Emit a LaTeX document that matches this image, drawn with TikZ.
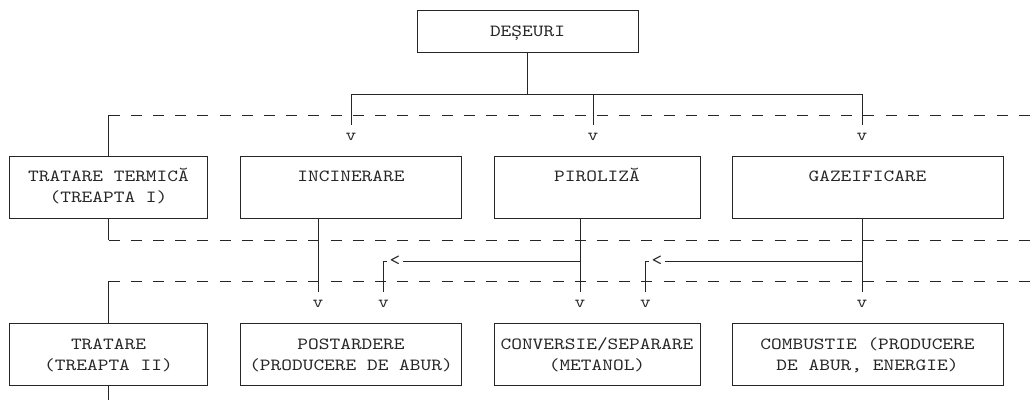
\documentclass[tikz,border=0pt]{standalone}
\usepackage{fontspec}
\newfontfamily\asciifont[FakeStretch=1.2]{lmmono10-regular.otf}
\usetikzlibrary{positioning}
\colorlet{ink}{black!85}

\tikzset{
	wire/.style={draw=ink, line width=0.8pt},
	stage/.style={draw=ink, line width=0.8pt, dash pattern=on 11pt off 11.2pt},
	box/.style={draw=ink, line width=0.8pt, inner sep=0pt, align=center, text=ink,
		font=\asciifont\fontsize{17}{20.8}\selectfont},
	onerow/.style={box, minimum height=62pt, text height=10.5pt, text depth=20.8pt},
	tworow/.style={box, minimum height=62pt, text height=31.3pt, text depth=0pt},
	vtip/.style={inner sep=0pt, outer ysep=8pt, anchor=base, text=ink,
		font=\asciifont\fontsize{17}{20.8}\selectfont},
	ltip/.style={inner sep=0pt, outer xsep=3pt, text=ink,
		font=\asciifont\fontsize{17}{20.8}\selectfont}
}

\begin{document}
\begin{tikzpicture}[x=1pt, y=-1pt]
	\useasboundingbox (0, 0) rectangle (1033, 400);

	\node[box, minimum width=221pt, minimum height=42pt, text height=10.5pt, text depth=0pt] (deseuri) at (527.5, 31) {DEȘEURI};

	\node[tworow, minimum width=198pt] (termic) at (108.5, 187) {TRATARE TERMICĂ\\(TREAPTA I)};
	\node[onerow, minimum width=221pt] (incin) at (351, 187) {INCINERARE};
	\node[onerow, minimum width=206pt] (pirol) at (597, 187) {PIROLIZĂ};
	\node[onerow, minimum width=271pt] (gazeif) at (867.5, 187) {GAZEIFICARE};

	\node[tworow, minimum width=198pt] (tratare) at (108.5, 354.5) {TRATARE\\(TREAPTA II)};
	\node[tworow, minimum width=221pt] (postard) at (351, 354.5) {POSTARDERE\\(PRODUCERE DE ABUR)};
	\node[tworow, minimum width=206pt] (convers) at (597, 354.5) {CONVERSIE/SEPARARE\\(METANOL)};
	\node[tworow, minimum width=271pt] (combust) at (867.5, 354.5) {COMBUSTIE (PRODUCERE\\DE ABUR, ENERGIE)};

	\node[vtip] (va1) at (351, 140) {v};
	\node[vtip] (va2) at (593, 140) {v};
	\node[vtip] (va3) at (862, 140) {v};

	\node[vtip] (vb1) at (318, 307) {v};
	\node[vtip] (vb2) at (383.5, 307) {v};
	\node[vtip] (vb3) at (580, 307) {v};
	\node[vtip] (vb4) at (645.5, 307) {v};
	\node[vtip] (vb5) at (862, 307) {v};

	\node[ltip] (la1) at (395, 261) {<};
	\node[ltip] (la2) at (657, 261) {<};

	\coordinate (hub) at (527.5, 94);
	\coordinate (pj) at (580, 261);
	\coordinate (gj) at (862, 261);

	\coordinate (d1) at (108.5, 115);
	\coordinate (d1e) at (1033, 115);
	\coordinate (d2) at (108.5, 240);
	\coordinate (d2e) at (1033, 240);
	\coordinate (d3) at (108.5, 281);
	\coordinate (d3e) at (1033, 281);
	\coordinate (tail) at (108.5, 400);

	\draw[stage] (d1) -- (d1e);
	\draw[stage] (d2) -- (d2e);
	\draw[stage] (d3) -- (d3e);

	\draw[wire] (termic) -- (d1);
	\draw[wire] (termic) -- (d2);
	\draw[wire] (d3) -- (tratare);
	\draw[wire] (tratare) -- (tail);

	\draw[wire] (deseuri) -- (hub);
	\draw[wire] (hub) -| (va1);
	\draw[wire] (hub) -| (va2);
	\draw[wire] (hub) -| (va3);

	\draw[wire] (incin.south -| vb1) -- (vb1);
	\draw[wire] (pirol.south -| vb3) -- (vb3);
	\draw[wire] (gazeif.south -| vb5) -- (vb5);

	\draw[wire] (pj) -- (la1);
	\draw[wire] (la1) -| (vb2);
	\draw[wire] (gj) -- (la2);
	\draw[wire] (la2) -| (vb4);

\end{tikzpicture}
\end{document}
